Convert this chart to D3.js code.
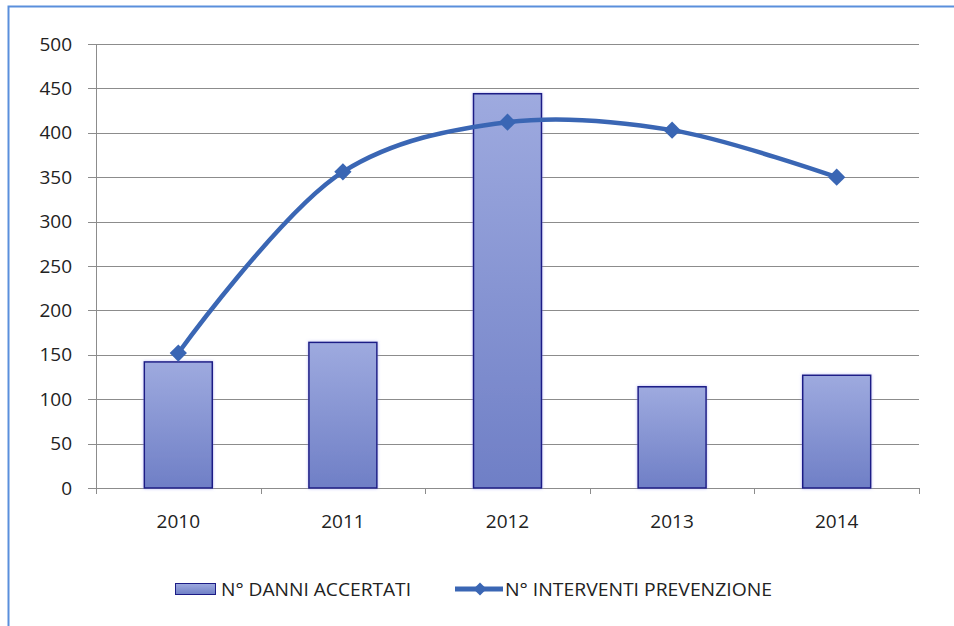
<!DOCTYPE html>
<meta charset="utf-8">
<style>
  body { margin: 0; background: #fff; }
  svg text { font-family: "Open Sans", "Liberation Sans", sans-serif; fill: #222; }
</style>
<script src="https://d3js.org/d3.v7.min.js"></script>
<div id="chart"></div>
<script>

// data
var years = ["2010", "2011", "2012", "2013", "2014"];
var danniAccertati = [142, 164, 444, 114, 127];
var interventiPrevenzione = [152, 356, 412, 403, 350];
var yTicks = [0, 50, 100, 150, 200, 250, 300, 350, 400, 450, 500];
var seriesNames = ["N° DANNI ACCERTATI", "N° INTERVENTI PREVENZIONE"];

var width = 954, height = 626;

var svg = d3.select("#chart")
  .append("svg")
    .attr("width", width)
    .attr("height", height);

// gradient for the bars
var defs = svg.append("defs");
var grad = defs.append("linearGradient")
    .attr("id", "barGrad")
    .attr("x1", 0).attr("y1", 0).attr("x2", 0).attr("y2", 1);
grad.append("stop").attr("offset", "0%").attr("stop-color", "#9eaadf");
grad.append("stop").attr("offset", "100%").attr("stop-color", "#6f7fc6");

var glow = defs.append("filter").attr("id", "glow")
    .attr("x", "-20%").attr("y", "-20%").attr("width", "140%").attr("height", "140%");
glow.append("feGaussianBlur").attr("in", "SourceAlpha").attr("stdDeviation", 1.5).attr("result", "b");
glow.append("feFlood").attr("flood-color", "#8a8cf0").attr("flood-opacity", 0.6);
glow.append("feComposite").attr("in2", "b").attr("operator", "in");
var merge = glow.append("feMerge");
merge.append("feMergeNode");
merge.append("feMergeNode").attr("in", "SourceGraphic");

// outer frame (top and left edge visible)
svg.append("path")
    .attr("d", "M8.5," + height + "V6.5H" + width)
    .attr("fill", "none")
    .attr("stroke", "#5a8fdc")
    .attr("stroke-width", 2);

// scales
var x = d3.scaleBand()
    .domain(years)
    .range([96, 919]);

var y = d3.scaleLinear()
    .domain([0, 500])
    .range([488, 44]);

// gridlines
svg.append("g")
  .selectAll("line")
  .data(yTicks)
  .enter()
  .append("line")
    .attr("x1", 88)
    .attr("x2", 919)
    .attr("y1", function(d){ return Math.round(y(d)) + 0.5 })
    .attr("y2", function(d){ return Math.round(y(d)) + 0.5 })
    .attr("stroke", "#8c8c8c")
    .attr("stroke-width", 1);

// y axis line
svg.append("line")
    .attr("x1", 96.5).attr("x2", 96.5)
    .attr("y1", y(500)).attr("y2", y(0) + 4)
    .attr("stroke", "#8c8c8c");

// y labels
svg.append("g")
  .selectAll("text")
  .data(yTicks)
  .enter()
  .append("text")
    .attr("x", 72)
    .attr("y", function(d){ return y(d) })
    .attr("dy", "0.35em")
    .attr("text-anchor", "end")
    .style("font-size", "19px")
    .text(function(d){ return d });

// x tick marks at category boundaries
var boundaries = years.map(function(d){ return x(d) }).concat([x.range()[1]]);
svg.append("g")
  .selectAll("line")
  .data(boundaries)
  .enter()
  .append("line")
    .attr("x1", function(d){ return Math.round(d) + 0.5 })
    .attr("x2", function(d){ return Math.round(d) + 0.5 })
    .attr("y1", y(0))
    .attr("y2", y(0) + 6)
    .attr("stroke", "#8c8c8c");

// x labels
svg.append("g")
  .selectAll("text")
  .data(years)
  .enter()
  .append("text")
    .attr("x", function(d){ return x(d) + x.bandwidth()/2 })
    .attr("y", 521)
    .attr("dy", "0.35em")
    .attr("text-anchor", "middle")
    .style("font-size", "19px")
    .text(function(d){ return d });

// bars
var barW = 68;
svg.append("g")
  .selectAll("rect")
  .data(danniAccertati)
  .enter()
  .append("rect")
    .attr("x", function(d, i){ return x(years[i]) + x.bandwidth()/2 - barW/2 })
    .attr("y", function(d){ return y(d) })
    .attr("width", barW)
    .attr("height", function(d){ return y(0) - y(d) })
    .attr("fill", "url(#barGrad)")
    .attr("stroke", "#1c1c86")
    .attr("stroke-width", 1.5)
    .attr("filter", "url(#glow)");

// line
var lineColor = "#3a66b4";
var pts = interventiPrevenzione.map(function(d, i){ return [x(years[i]) + x.bandwidth()/2, y(d)] });
var line = d3.line().curve(d3.curveCatmullRom.alpha(0.5));

svg.append("path")
    .attr("d", line(pts))
    .attr("fill", "none")
    .attr("stroke", lineColor)
    .attr("stroke-width", 4.5)
    .attr("stroke-linecap", "round");

var diamond = d3.symbol().type(d3.symbolDiamond2).size(190);
svg.append("g")
  .selectAll("path")
  .data(pts)
  .enter()
  .append("path")
    .attr("d", diamond)
    .attr("transform", function(d){ return "translate(" + d[0] + "," + d[1] + ")" })
    .attr("fill", lineColor);

// legend
var legY = 589;
svg.append("rect")
    .attr("x", 175.5).attr("y", legY - 5.5)
    .attr("width", 40).attr("height", 11)
    .attr("fill", "url(#barGrad)")
    .attr("stroke", "#1c1c86")
    .attr("stroke-width", 1);

svg.append("text")
    .attr("x", 221)
    .attr("y", legY)
    .attr("dy", "0.35em")
    .style("font-size", "19px")
    .attr("textLength", 190)
    .attr("lengthAdjust", "spacingAndGlyphs")
    .text(seriesNames[0]);

svg.append("line")
    .attr("x1", 455).attr("x2", 503)
    .attr("y1", legY).attr("y2", legY)
    .attr("stroke", lineColor)
    .attr("stroke-width", 5);

svg.append("path")
    .attr("d", d3.symbol().type(d3.symbolDiamond2).size(110))
    .attr("transform", "translate(480," + legY + ")")
    .attr("fill", lineColor);

svg.append("text")
    .attr("x", 505)
    .attr("y", legY)
    .attr("dy", "0.35em")
    .style("font-size", "19px")
    .attr("textLength", 267)
    .attr("lengthAdjust", "spacingAndGlyphs")
    .text(seriesNames[1]);

</script>
